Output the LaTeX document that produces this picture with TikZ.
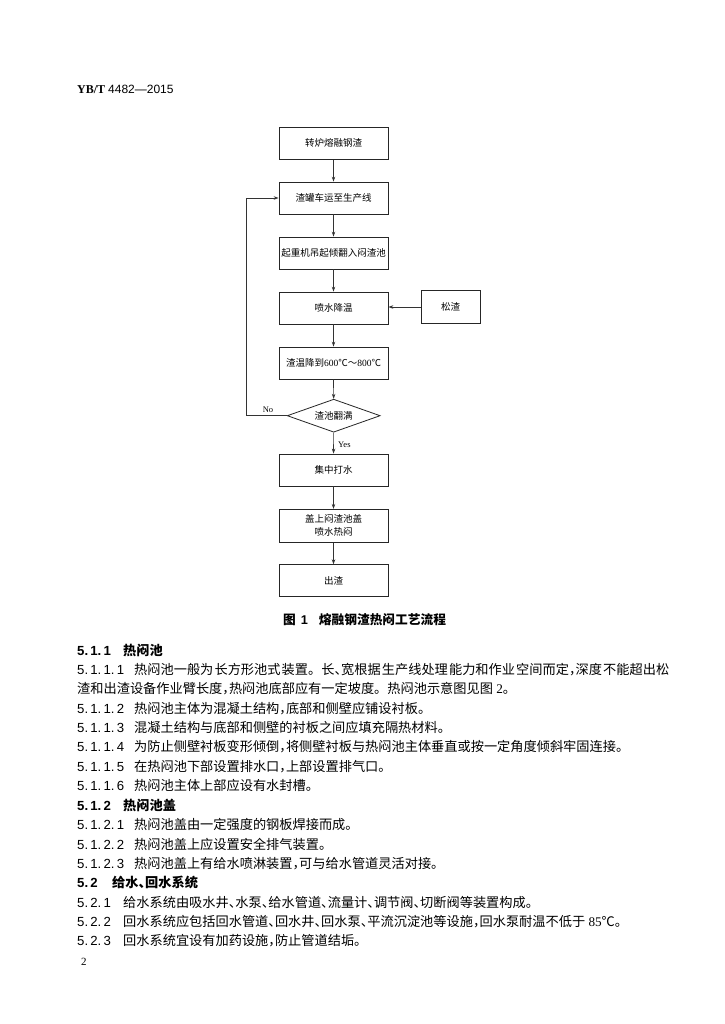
\documentclass[tikz,border=0pt]{standalone}
\usepackage{fontspec}
\setmainfont{Liberation Serif}
\newfontfamily\cjk{Noto Sans CJK SC}
\newfontfamily\hv{Liberation Sans}
\usetikzlibrary{shapes.geometric,arrows.meta}
\newcommand\nfour[1]{\makebox[57pt][l]{\hv #1}}
\newcommand\nthree[1]{\makebox[46pt][l]{\hv #1}}
\newcommand\ntwo[1]{\makebox[35pt][l]{\hv #1}}
\newcommand\dun{\makebox[0.5em][l]{、}}
\newcommand\dou{\makebox[0.5em][l]{，}}
\begin{document}
\begin{tikzpicture}[x=1pt,y=-1pt,
  box/.style={draw=black!85,line width=0.8pt,minimum width=109pt,minimum height=32pt,inner sep=1pt,align=center,font=\cjk\fontsize{9.5}{13}\selectfont},
  dec/.style={draw=black!85,line width=0.8pt,diamond,aspect=2.8,minimum width=93pt,minimum height=33pt,inner sep=0pt,font=\cjk\fontsize{9.5}{12}\selectfont},
  arr/.style={-{Stealth[length=5pt,width=3.5pt]},line width=0.7pt,draw=black!80},
  lbl/.style={inner sep=0pt,font=\rmfamily\fontsize{8.5}{10}\selectfont},
  body/.style={anchor=west,inner sep=0pt,font=\cjk\fontsize{13.2}{15}\selectfont},
  head/.style={anchor=west,inner sep=0pt,font=\cjk\bfseries\fontsize{13.2}{15}\selectfont},
]
\fill[white] (0,0) rectangle (724,1024);
\useasboundingbox (0,0) rectangle (724,1024);

% header
\node[anchor=west,inner sep=0pt,font=\fontsize{12}{14}\selectfont] (hdr) at (77,89) {{\rmfamily\bfseries YB/T} {\hv 4482—2015}};

% flowchart
\node[box] (b1) at (333.5,143.3) {转炉熔融钢渣};
\node[box] (b2) at (333.5,198) {渣罐车运至生产线};
\node[box] (b3) at (333.5,253) {起重机吊起倾翻入闷渣池};
\node[box] (b4) at (333.5,308) {喷水降温};
\node[box,minimum width=59pt,minimum height=33pt] (s) at (450.5,307) {松渣};
\node[box] (b5) at (333.5,363) {渣温降到{\rmfamily 600}℃～{\rmfamily 800}℃};
\node[dec] (d) at (333.7,415.7) {渣池翻满};
\node[box] (b6) at (333.5,470) {集中打水};
\node[box,minimum height=33pt] (b7) at (333.5,525.8) {盖上闷渣池盖\\喷水热闷};
\node[box] (b8) at (333.5,580.7) {出渣};

\draw[arr] (b1) -- (b2);
\draw[arr] (b2) -- (b3);
\draw[arr] (b3) -- (b4);
\draw[arr] (b4) -- (b5);
\draw[arr] (b5) -- (d);
\draw[arr] (d) -- (b6);
\draw[arr] (b6) -- (b7);
\draw[arr] (b7) -- (b8);
\draw[arr] (s.west) -- (s.west -| b4.east);
\coordinate (lp) at (246,300);
\draw[arr] (d.west) -- (d.west -| lp) -- (b2.west -| lp) -- (b2.west);
\node[lbl] (no) at (268,410) {No};
\node[lbl,anchor=west] (yes) at (338,445) {Yes};

% caption
\node[anchor=west,inner sep=0pt,font=\cjk\bfseries\fontsize{12.7}{15}\selectfont] (cap) at (283,620) {图\hspace{5pt}{\hv\bfseries 1}\hspace{11pt}熔融钢渣热闷工艺流程};

% body text
\node[head] (t0) at (77,650) {\nthree{5.\,1.\,1}热闷池};
\node[body] (t1) at (77,669.4) {\nfour{5.\,1.\,1.\,1}\makebox[535pt][s]{热闷池一般为\hfil 长方形池式\hfil 装置。长\dun 宽根据\hfil 生产线处理\hfil 能力和作业\hfil 空间而定\dou 深度\hfil 不能超出松}};
\node[body] (t2) at (77,688.8) {渣和出渣设备作业臂长度\dou 热闷池底部应有一定坡度。热闷池示意图见图{\rmfamily\ 2}。};
\node[body] (t3) at (77,708.2) {\nfour{5.\,1.\,1.\,2}热闷池主体为混凝土结构\dou 底部和侧壁应铺设衬板。};
\node[body] (t4) at (77,727.6) {\nfour{5.\,1.\,1.\,3}混凝土结构与底部和侧壁的衬板之间应填充隔热材料。};
\node[body] (t5) at (77,747) {\nfour{5.\,1.\,1.\,4}为防止侧壁衬板变形倾倒\dou 将侧壁衬板与热闷池主体垂直或按一定角度倾斜牢固连接。};
\node[body] (t6) at (77,766.4) {\nfour{5.\,1.\,1.\,5}在热闷池下部设置排水口\dou 上部设置排气口。};
\node[body] (t7) at (77,785.8) {\nfour{5.\,1.\,1.\,6}热闷池主体上部应设有水封槽。};
\node[head] (t8) at (77,805.2) {\nthree{5.\,1.\,2}热闷池盖};
\node[body] (t9) at (77,824.6) {\nfour{5.\,1.\,2.\,1}热闷池盖由一定强度的钢板焊接而成。};
\node[body] (t10) at (77,844) {\nfour{5.\,1.\,2.\,2}热闷池盖上应设置安全排气装置。};
\node[body] (t11) at (77,863.4) {\nfour{5.\,1.\,2.\,3}热闷池盖上有给水喷淋装置\dou 可与给水管道灵活对接。};
\node[head] (t12) at (77,882.8) {\ntwo{5.\,2}给水\dun 回水系统};
\node[body] (t13) at (77,902.2) {\nthree{5.\,2.\,1}给水系统由吸水井\dun 水泵\dun 给水管道\dun 流量计\dun 调节阀\dun 切断阀等装置构成。};
\node[body] (t14) at (77,921.6) {\nthree{5.\,2.\,2}回水系统应包括回水管道\dun 回水井\dun 回水泵\dun 平流沉淀池等设施\dou 回水泵耐温不低于{\rmfamily\ 85}℃。};
\node[body] (t15) at (77,941) {\nthree{5.\,2.\,3}回水系统宜设有加药设施\dou 防止管道结垢。};
\node[anchor=west,inner sep=0pt,font=\rmfamily\fontsize{11}{12}\selectfont] (pg) at (81,962) {2};
\end{tikzpicture}
\end{document}
